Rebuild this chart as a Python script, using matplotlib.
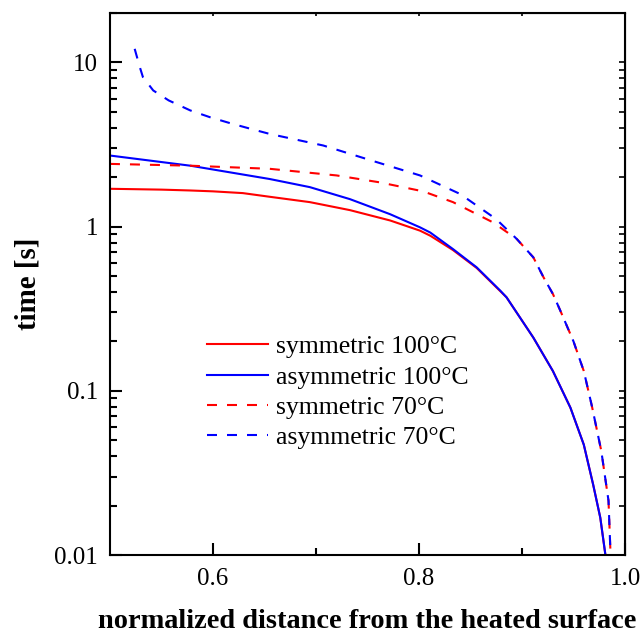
import matplotlib
matplotlib.use('Agg')
import matplotlib.pyplot as plt
from matplotlib.ticker import FixedLocator, NullFormatter, LogLocator

# Data (x = normalized distance, y = time in s)
sym100_x = [0.50, 0.55, 0.578, 0.60, 0.629, 0.655, 0.694, 0.733, 0.772, 0.801, 0.811,
            0.833, 0.856, 0.885, 0.911, 0.930, 0.947, 0.960, 0.969, 0.976, 0.981]
sym100_y = [1.70, 1.68, 1.66, 1.64, 1.60, 1.52, 1.41, 1.26, 1.09, 0.945, 0.88,
            0.72, 0.56, 0.371, 0.211, 0.132, 0.079, 0.047, 0.027, 0.0169, 0.010]

asym100_x = [0.50, 0.578, 0.655, 0.694, 0.733, 0.772, 0.801, 0.811, 0.833, 0.856, 0.879,
             0.885, 0.911, 0.930, 0.947, 0.960, 0.969, 0.976, 0.981]
asym100_y = [2.71, 2.35, 1.95, 1.74, 1.47, 1.19, 0.99, 0.92, 0.73, 0.565, 0.407,
             0.371, 0.211, 0.132, 0.079, 0.047, 0.027, 0.0169, 0.010]

sym70_x = [0.50, 0.578, 0.655, 0.720, 0.762, 0.804, 0.833, 0.872, 0.895, 0.911, 0.921,
           0.930, 0.937, 0.950, 0.960, 0.968, 0.977, 0.984, 0.986]
sym70_y = [2.41, 2.35, 2.25, 2.05, 1.86, 1.64, 1.41, 1.06, 0.84, 0.65, 0.49,
           0.389, 0.31, 0.20, 0.132, 0.080, 0.043, 0.0214, 0.010]

asym70_x = [0.524, 0.529, 0.532, 0.542, 0.557, 0.578, 0.597, 0.617, 0.636, 0.655, 0.707,
            0.759, 0.801, 0.840, 0.875, 0.895, 0.911, 0.921, 0.930, 0.937, 0.950,
            0.960, 0.968, 0.977, 0.984, 0.986]
asym70_y = [12.1, 9.36, 8.14, 6.75, 5.87, 5.1, 4.64, 4.26, 3.95, 3.67, 3.12,
            2.47, 2.05, 1.58, 1.11, 0.84, 0.65, 0.49, 0.389, 0.31, 0.20,
            0.132, 0.080, 0.043, 0.0214, 0.010]

labels = ['symmetric 100°C', 'asymmetric 100°C', 'symmetric 70°C', 'asymmetric 70°C']
x_ticks = [0.6, 0.8, 1.0]
y_ticks = [0.01, 0.1, 1, 10]
y_ticklabels = ['0.01', '0.1', '1', '10']

plt.rcParams['font.family'] = 'Liberation Serif'

fig = plt.figure(figsize=(6.43, 6.37), dpi=100)
ax = fig.add_axes([0.171, 0.1287, 0.801, 0.8509])

dash = (0, (4.8, 4.8))
ax.plot(sym100_x, sym100_y, color='#ff0000', lw=1.5, label=labels[0])
ax.plot(asym100_x, asym100_y, color='#0000ff', lw=1.5, label=labels[1])
ax.plot(sym70_x, sym70_y, color='#ff0000', lw=1.5, linestyle=dash, label=labels[2])
ax.plot(asym70_x, asym70_y, color='#0000ff', lw=1.5, linestyle=dash, label=labels[3])

ax.set_yscale('log')
ax.set_xlim(0.5, 1.0)
ax.set_ylim(0.01, 20)

ax.set_xticks(x_ticks)
ax.set_xticklabels(['0.6', '0.8', '1.0'])
ax.xaxis.set_minor_locator(FixedLocator([0.7, 0.9]))
ax.set_yticks(y_ticks)
ax.set_yticklabels(y_ticklabels)
ax.yaxis.set_minor_locator(LogLocator(base=10, subs=range(2, 10)))
ax.yaxis.set_minor_formatter(NullFormatter())

ax.tick_params(which='major', direction='in', length=8.5, width=1.5, labelsize=18)
ax.tick_params(which='minor', direction='in', length=5, width=1.5)
ax.tick_params(axis='y', pad=8.5)
ax.tick_params(axis='x', pad=9)

for s in ax.spines.values():
    s.set_linewidth(1.5)

# short ticks on the top and right sides
top = ax.secondary_xaxis('top')
top.set_xticks([0.6, 0.7, 0.8, 0.9])
top.set_xticklabels([])
top.tick_params(direction='in', length=2.5, width=1.2)
right = ax.secondary_yaxis('right')
right.set_yticks(y_ticks)
right.yaxis.set_minor_locator(LogLocator(base=10, subs=range(2, 10)))
right.set_yticklabels([])
right.yaxis.set_minor_formatter(NullFormatter())
right.tick_params(which='both', direction='in', length=4, width=1.2)

ax.set_xlabel('normalized distance from the heated surface', fontsize=20.4,
              fontweight='bold', labelpad=14)
ax.set_ylabel('time [s]', fontsize=20.8, fontweight='bold', labelpad=9)

ax.legend(loc='upper left', bbox_to_anchor=(0.188, 0.405), frameon=False,
          fontsize=18.5, handlelength=2.4, handletextpad=0.3, labelspacing=0.28,
          borderpad=0, borderaxespad=0)

fig.savefig('out.png', dpi=100)
